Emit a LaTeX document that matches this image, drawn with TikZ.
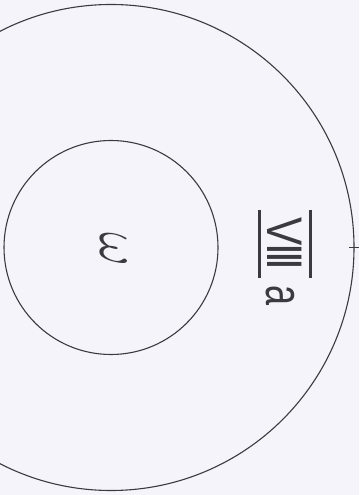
\documentclass[tikz,border=0pt]{standalone}
\usepackage{fontspec}
\usepackage{graphicx}
\newfontfamily\lblfont{Liberation Sans}
\definecolor{paper}{HTML}{F4F4FA}
\definecolor{ink}{HTML}{3A3A40}
\begin{document}
\begin{tikzpicture}[x=1pt,y=1pt,
  ring/.style={draw=ink, line width=1.1pt},
  bar/.style={draw=ink, line width=3pt},
  big/.style={text=ink, inner sep=0pt, rotate=-90, font=\lblfont\fontsize{50}{50}\selectfont}]
\fill[paper] (0,0) rectangle (359,495);
\useasboundingbox (0,0) rectangle (359,495);
\coordinate (c) at (111,247.5);
\draw[ring] (c) circle[radius=243];
\draw[ring] (c) circle[radius=107];
\coordinate (t1) at (349,247.5);
\coordinate (t2) at (359,247.5);
\draw[ring] (t1) -- (t2);
\node[big] (w) at (114,246) {\scalebox{2.1}[2.45]{$\omega$}};
\node[big] (lbl) at (284.5,251) {\scalebox{0.85}[1]{V\kern-2pt I\kern-5pt I\kern-5pt I}};
\node[big] (a) at (280,199.5) {\scalebox{0.72}[1.05]{a}};
\coordinate (b1) at (259,285);
\coordinate (b2) at (259,217);
\coordinate (b3) at (310,285);
\coordinate (b4) at (310,217);
\draw[bar] (b1) -- (b2);
\draw[bar] (b3) -- (b4);
\end{tikzpicture}
\end{document}
